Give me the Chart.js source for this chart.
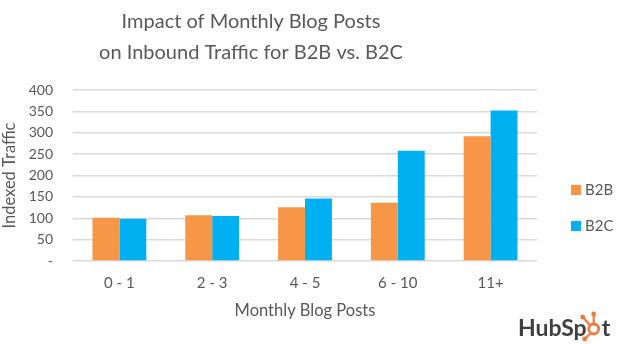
<!DOCTYPE html>
<html>
<head>
<meta charset="utf-8">
<script src="https://cdn.jsdelivr.net/npm/chart.js@4"></script>
<style>
  html, body { margin: 0; padding: 0; background: #fff; }
  #blogChart { display: block; }
</style>
</head>
<body>
<canvas id="blogChart" width="628" height="344"></canvas>
<script>
//chart data
const postBuckets = ['0 - 1', '2 - 3', '4 - 5', '6 - 10', '11+'];
const b2bTraffic = [101, 107, 126, 136, 292];
const b2cTraffic = [99, 105, 146, 258, 352];
const titleLines = ['Impact of Monthly Blog Posts', 'on Inbound Traffic for B2B vs. B2C'];

const textGray = '#595959';
const fontFace = 'Lato, "Open Sans", sans-serif';

//title drawn a bit left of centre, like the original sheet
const titlePlugin = {
    id: 'titleText',
    afterDraw(chart) {
        const ctx = chart.ctx;
        ctx.save();
        ctx.fillStyle = textGray;
        ctx.font = '20px ' + fontFace;
        ctx.textAlign = 'center';
        ctx.textBaseline = 'middle';
        ctx.fillText(titleLines[0], 251, 22);
        ctx.fillText(titleLines[1], 251, 53);
        ctx.restore();
    }
};

//legend on the right, square swatch + label per dataset
const sideLegend = {
    id: 'sideLegend',
    afterDraw(chart) {
        const ctx = chart.ctx;
        ctx.save();
        ctx.font = '15px ' + fontFace;
        ctx.textBaseline = 'middle';
        chart.data.datasets.forEach((ds, i) => {
            const y = 190 + i * 36;
            ctx.fillStyle = ds.backgroundColor;
            ctx.fillRect(571, y - 5, 10, 10);
            ctx.fillStyle = textGray;
            ctx.fillText(ds.label, 585, y);
        });
        ctx.restore();
    }
};

//hubspot mark bottom right
const logoPlugin = {
    id: 'hubLogo',
    afterDraw(chart) {
        const ctx = chart.ctx;
        ctx.save();
        ctx.font = 'bold 23px ' + fontFace;
        ctx.textBaseline = 'alphabetic';
        ctx.fillStyle = '#3f3f3f';
        let x = 518;
        const y = 336;
        ctx.fillText('HubSp', x, y);
        x += ctx.measureText('HubSp').width;
        // sprocket in place of the o
        const cx = x + 7, cy = y - 7;
        ctx.strokeStyle = '#f07b3f';
        ctx.fillStyle = '#f07b3f';
        ctx.lineWidth = 2.8;
        ctx.beginPath();
        ctx.arc(cx, cy, 5, 0, Math.PI * 2);
        ctx.stroke();
        ctx.lineWidth = 2.2;
        ctx.beginPath();
        ctx.moveTo(cx, cy - 5); ctx.lineTo(cx, cy - 14);
        ctx.moveTo(cx - 4, cy - 4); ctx.lineTo(cx - 10, cy - 11);
        ctx.moveTo(cx - 3, cy + 4); ctx.lineTo(cx - 8, cy + 9);
        ctx.stroke();
        [[0, -15], [-11, -12], [-9, 10]].forEach(p => {
            ctx.beginPath();
            ctx.arc(cx + p[0], cy + p[1], 2.4, 0, Math.PI * 2);
            ctx.fill();
        });
        ctx.fillStyle = '#3f3f3f';
        ctx.fillText('t', x + 15, y);
        ctx.restore();
    }
};

const blogChartGenerator = () => {
    var ctx = document.getElementById('blogChart').getContext('2d');
    var chart = new Chart(ctx, {
        type: 'bar',
        data: {
            labels: postBuckets,
            datasets: [{
                label: 'B2B',
                backgroundColor: '#f79646',
                data: b2bTraffic
            }, {
                label: 'B2C',
                backgroundColor: '#00b0f0',
                data: b2cTraffic
            }]
        },
        options: {
            responsive: false,
            animation: false,
            layout: {
                padding: { left: 0, right: 91, top: 90, bottom: 21 }
            },
            datasets: {
                bar: { categoryPercentage: 0.58, barPercentage: 1.0 }
            },
            plugins: {
                legend: { display: false },
                tooltip: { enabled: false }
            },
            scales: {
                x: {
                    grid: { display: false, drawTicks: false },
                    border: { display: false },
                    afterFit: scale => { scale.height = 62; },
                    ticks: {
                        color: textGray,
                        padding: 13,
                        font: { family: fontFace, size: 15 }
                    },
                    title: {
                        display: true,
                        text: 'Monthly Blog Posts',
                        color: textGray,
                        padding: { top: 0, bottom: 2 },
                        font: { family: fontFace, size: 16.5 }
                    }
                },
                y: {
                    min: 0,
                    max: 400,
                    grid: { color: '#d9d9d9', lineWidth: 1.5, drawTicks: false },
                    border: { display: false },
                    afterFit: scale => { scale.width = 73; },
                    ticks: {
                        stepSize: 50,
                        color: textGray,
                        padding: 20,
                        font: { family: fontFace, size: 14 },
                        callback: v => v === 0 ? '-' : v
                    },
                    title: {
                        display: true,
                        text: 'Indexed Traffic',
                        color: textGray,
                        padding: { top: 0, bottom: 0 },
                        font: { family: fontFace, size: 16.5 }
                    }
                }
            }
        },
        plugins: [titlePlugin, sideLegend, logoPlugin]
    });
};
blogChartGenerator()
</script>
</body>
</html>
